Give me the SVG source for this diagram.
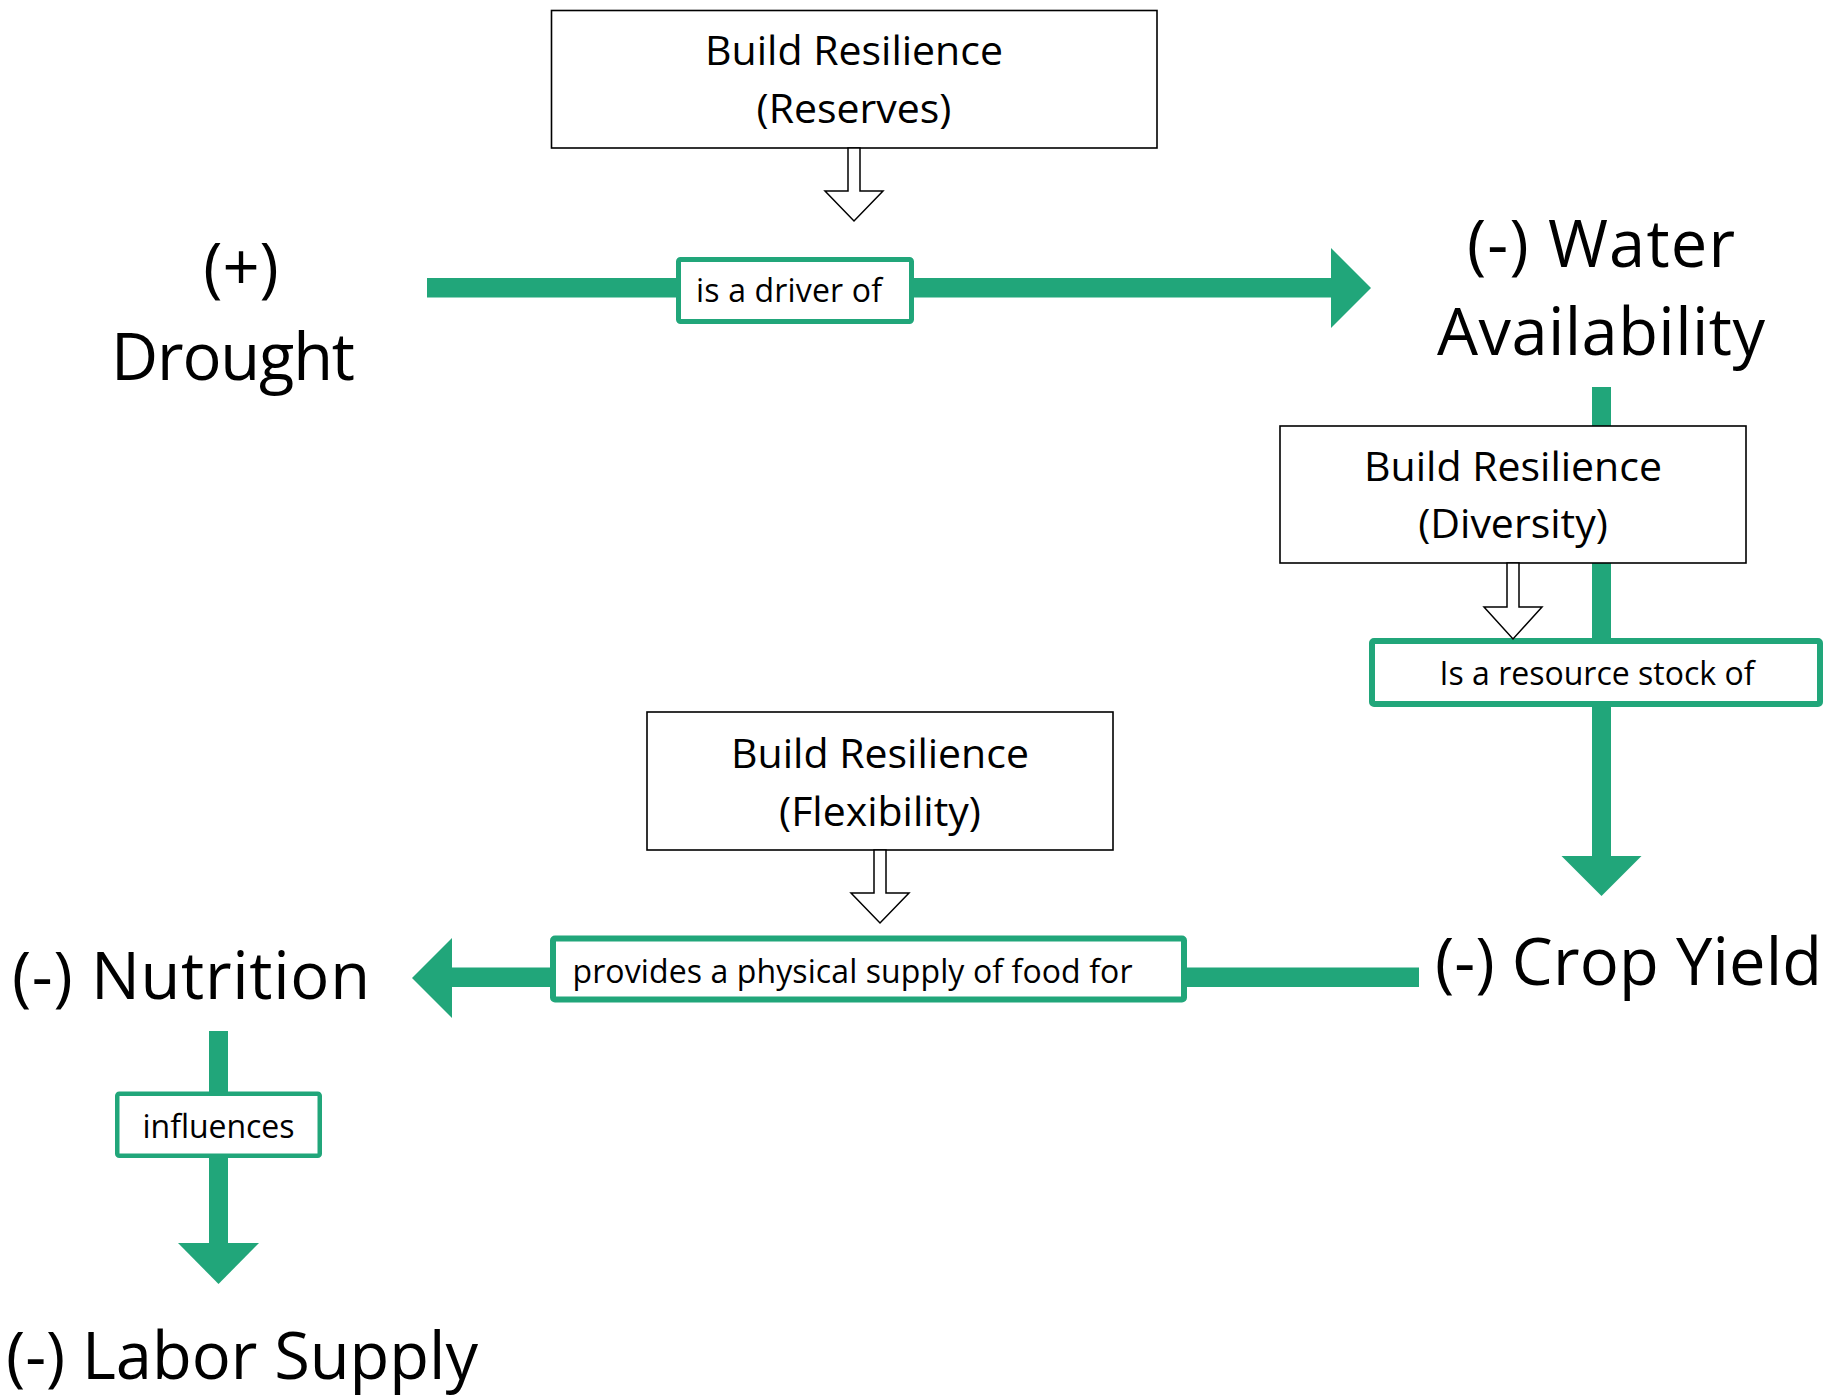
<svg xmlns="http://www.w3.org/2000/svg" width="1825" height="1397" viewBox="0 0 1825 1397">
  <style>
    .big { font-family: "Open Sans", "Noto Sans", sans-serif; font-size: 65px; fill: #000; }
    .box-text { font-family: "Open Sans", "Noto Sans", sans-serif; font-size: 41px; fill: #000; text-anchor: middle; }
    .lbl { font-family: "Open Sans", "Noto Sans", sans-serif; font-size: 32px; fill: #000; }
    .res-box { fill: #fff; stroke: #000; stroke-width: 1.6; }
    .hollow { fill: #fff; stroke: #000; stroke-width: 1.5; stroke-linejoin: miter; }
    .flow { fill: #21a67a; }
    .lbl-box { fill: #fff; stroke: #21a67a; }
  </style>

  <!-- green causal arrows -->
  <g id="connectors">
    <!-- Drought -> Water Availability -->
    <rect class="flow" x="427" y="278" width="905" height="19.5"/>
    <polygon class="flow" points="1331,248 1371,288 1331,328"/>
    <!-- Water Availability -> Crop Yield -->
    <rect class="flow" x="1592" y="387" width="19" height="470"/>
    <polygon class="flow" points="1561.5,856 1601.5,896 1641.5,856"/>
    <!-- Crop Yield -> Nutrition -->
    <rect class="flow" x="451" y="967.5" width="968" height="19.5"/>
    <polygon class="flow" points="452,938 412,978 452,1018"/>
    <!-- Nutrition -> Labor Supply -->
    <rect class="flow" x="209" y="1031" width="19" height="213"/>
    <polygon class="flow" points="178,1243 218.5,1284 259,1243"/>
  </g>

  <!-- relation labels sitting on the arrows -->
  <g id="label-driver">
    <rect class="lbl-box" x="678.5" y="259.5" width="233" height="62" rx="2" stroke-width="5"/>
    <text class="lbl" x="696" y="302" textLength="186">is a driver of</text>
  </g>
  <g id="label-resource">
    <rect class="lbl-box" x="1372" y="641" width="448" height="63" rx="2" stroke-width="6"/>
    <text class="lbl" x="1597" y="685" text-anchor="middle" textLength="315">Is a resource stock of</text>
  </g>
  <g id="label-supply">
    <rect class="lbl-box" x="553" y="938.5" width="631" height="61" rx="2" stroke-width="6"/>
    <text class="lbl" x="572.5" y="983" textLength="560">provides a physical supply of food for</text>
  </g>
  <g id="label-influences">
    <rect class="lbl-box" x="117.25" y="1093.75" width="202.5" height="62" rx="2" stroke-width="4.5"/>
    <text class="lbl" x="218.5" y="1138" text-anchor="middle" textLength="152">influences</text>
  </g>

  <!-- resilience interventions -->
  <g id="resilience-reserves">
    <rect class="res-box" x="551.5" y="10.5" width="605.5" height="137.5"/>
    <text class="box-text" x="854" y="65">Build Resilience</text>
    <text class="box-text" x="854" y="123">(Reserves)</text>
    <polygon class="hollow" points="848,148 860,148 860,191 883,191 854,221 825,191 848,191"/>
  </g>
  <g id="resilience-diversity">
    <rect class="res-box" x="1280" y="426" width="466" height="137"/>
    <text class="box-text" x="1513" y="480.5">Build Resilience</text>
    <text class="box-text" x="1513" y="538">(Diversity)</text>
    <polygon class="hollow" points="1507,563 1519,563 1519,607 1542,607 1513,639 1484,607 1507,607"/>
  </g>
  <g id="resilience-flexibility">
    <rect class="res-box" x="647" y="712" width="466" height="138"/>
    <text class="box-text" x="880" y="767.5">Build Resilience</text>
    <text class="box-text" x="880" y="825.5">(Flexibility)</text>
    <polygon class="hollow" points="874,850 886,850 886,893 909,893 880,923 851,893 874,893"/>
  </g>

  <!-- system variables -->
  <g id="drought">
    <text class="big" x="241" y="290" text-anchor="middle">(+)</text>
    <text class="big" x="233" y="380" text-anchor="middle" textLength="244">Drought</text>
  </g>
  <g id="water-availability">
    <text class="big" x="1601" y="267" text-anchor="middle" textLength="268">(-) Water</text>
    <text class="big" x="1601" y="355" text-anchor="middle" textLength="328">Availability</text>
  </g>
  <g id="crop-yield">
    <text class="big" x="1435" y="985" textLength="387">(-) Crop Yield</text>
  </g>
  <g id="nutrition">
    <text class="big" x="12" y="999" textLength="358">(-) Nutrition</text>
  </g>
  <g id="labor-supply">
    <text class="big" x="6" y="1379" textLength="472">(-) Labor Supply</text>
  </g>
</svg>
